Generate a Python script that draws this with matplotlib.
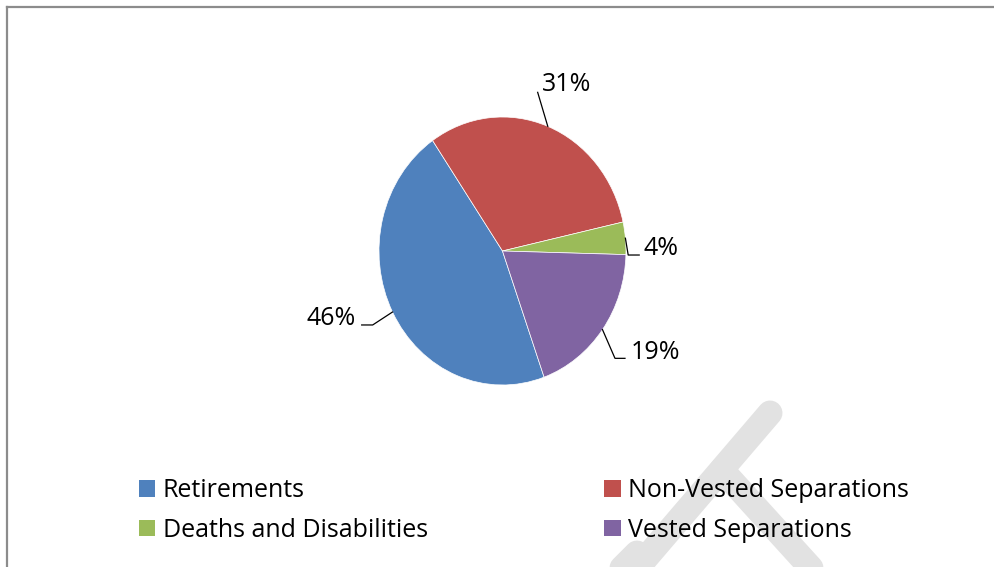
import numpy as np
import matplotlib
matplotlib.use("Agg")
import matplotlib.pyplot as plt
from matplotlib.patches import Patch
from matplotlib.lines import Line2D

# --- data ---
categories = ["Retirements", "Non-Vested Separations", "Deaths and Disabilities", "Vested Separations"]
shares = [45.9, 31.1, 3.9, 19.1]
colors = ["#4F81BD", "#C0504D", "#9BBB59", "#8064A2"]

# leader lines (data units, pie radius = 1): elbow, end, text position, alignment
elbows = [(-1.051, -0.552), (0.285, 1.184), (1.018, -0.030), (0.911, -0.801)]
ends = [(-1.140, -0.552), (0.285, 1.184), (1.107, -0.030), (0.992, -0.801)]
text_pos = [(-1.185, -0.552), (0.320, 1.194), (1.140, -0.028), (1.040, -0.808)]
text_ha = ["right", "left", "left", "left"]

plt.rcParams['font.family'] = ['Open Sans', 'DejaVu Sans']

W, H = 995, 567
fig = plt.figure(figsize=(W / 100, H / 100), dpi=100)

# pie is slightly stretched vertically in the reference
ax = fig.add_axes([348.1 / W, 148.5 / H, 308.75 / W, 335 / H])
wedges, _ = ax.pie(shares, colors=colors, startangle=-70.3, counterclock=False,
                   wedgeprops=dict(edgecolor="white", linewidth=0.5))
ax.set_xlim(-1.25, 1.25)
ax.set_ylim(-1.25, 1.25)
ax.set_aspect('auto')

for w, v, el, en, tp, ha in zip(wedges, shares, elbows, ends, text_pos, text_ha):
    mid = np.deg2rad((w.theta1 + w.theta2) / 2)
    anchor = (np.cos(mid), np.sin(mid))
    ax.plot([anchor[0], el[0], en[0]], [anchor[1], el[1], en[1]],
            color="black", linewidth=0.9, clip_on=False)
    ax.text(tp[0], tp[1], f"{v:.0f}%", ha=ha, va="baseline", fontsize=18,
            color="black", clip_on=False)

# legend in two columns
handles = [Patch(facecolor=c, edgecolor="none") for c in colors]
leg_kw = dict(frameon=False, fontsize=18, handlelength=0.66, handleheight=0.66,
              handletextpad=0.3, labelspacing=0.58, borderpad=0, borderaxespad=0,
              loc="center left")
fig.legend([handles[0], handles[2]], [categories[0], categories[2]],
           bbox_to_anchor=(139 / W, 1 - 510.5 / H), **leg_kw)
fig.legend([handles[1], handles[3]], [categories[1], categories[3]],
           bbox_to_anchor=(604 / W, 1 - 510.5 / H), **leg_kw)

# chart border (top and left only visible)
border = dict(color="#8c8c8c", linewidth=1.6, transform=fig.transFigure)
fig.add_artist(Line2D([7.5 / W, 1.0], [1 - 7 / H, 1 - 7 / H], **border))
fig.add_artist(Line2D([7.5 / W, 7.5 / W], [1 - 7 / H, 0.0], **border))

# faint watermark strokes
wm = dict(color="#e2e2e2", linewidth=18, solid_capstyle="round",
          transform=fig.transFigure, zorder=0.5)
fig.add_artist(Line2D([770 / W, 610 / W], [1 - 413 / H, 1 - 600 / H], **wm))
fig.add_artist(Line2D([722 / W, 840 / W], [1 - 470 / H, 1 - 600 / H], **wm))
fig.add_artist(Line2D([637 / W, 590 / W], [1 - 553 / H, 1 - 600 / H], **wm))

fig.savefig("out.png", dpi=100)
